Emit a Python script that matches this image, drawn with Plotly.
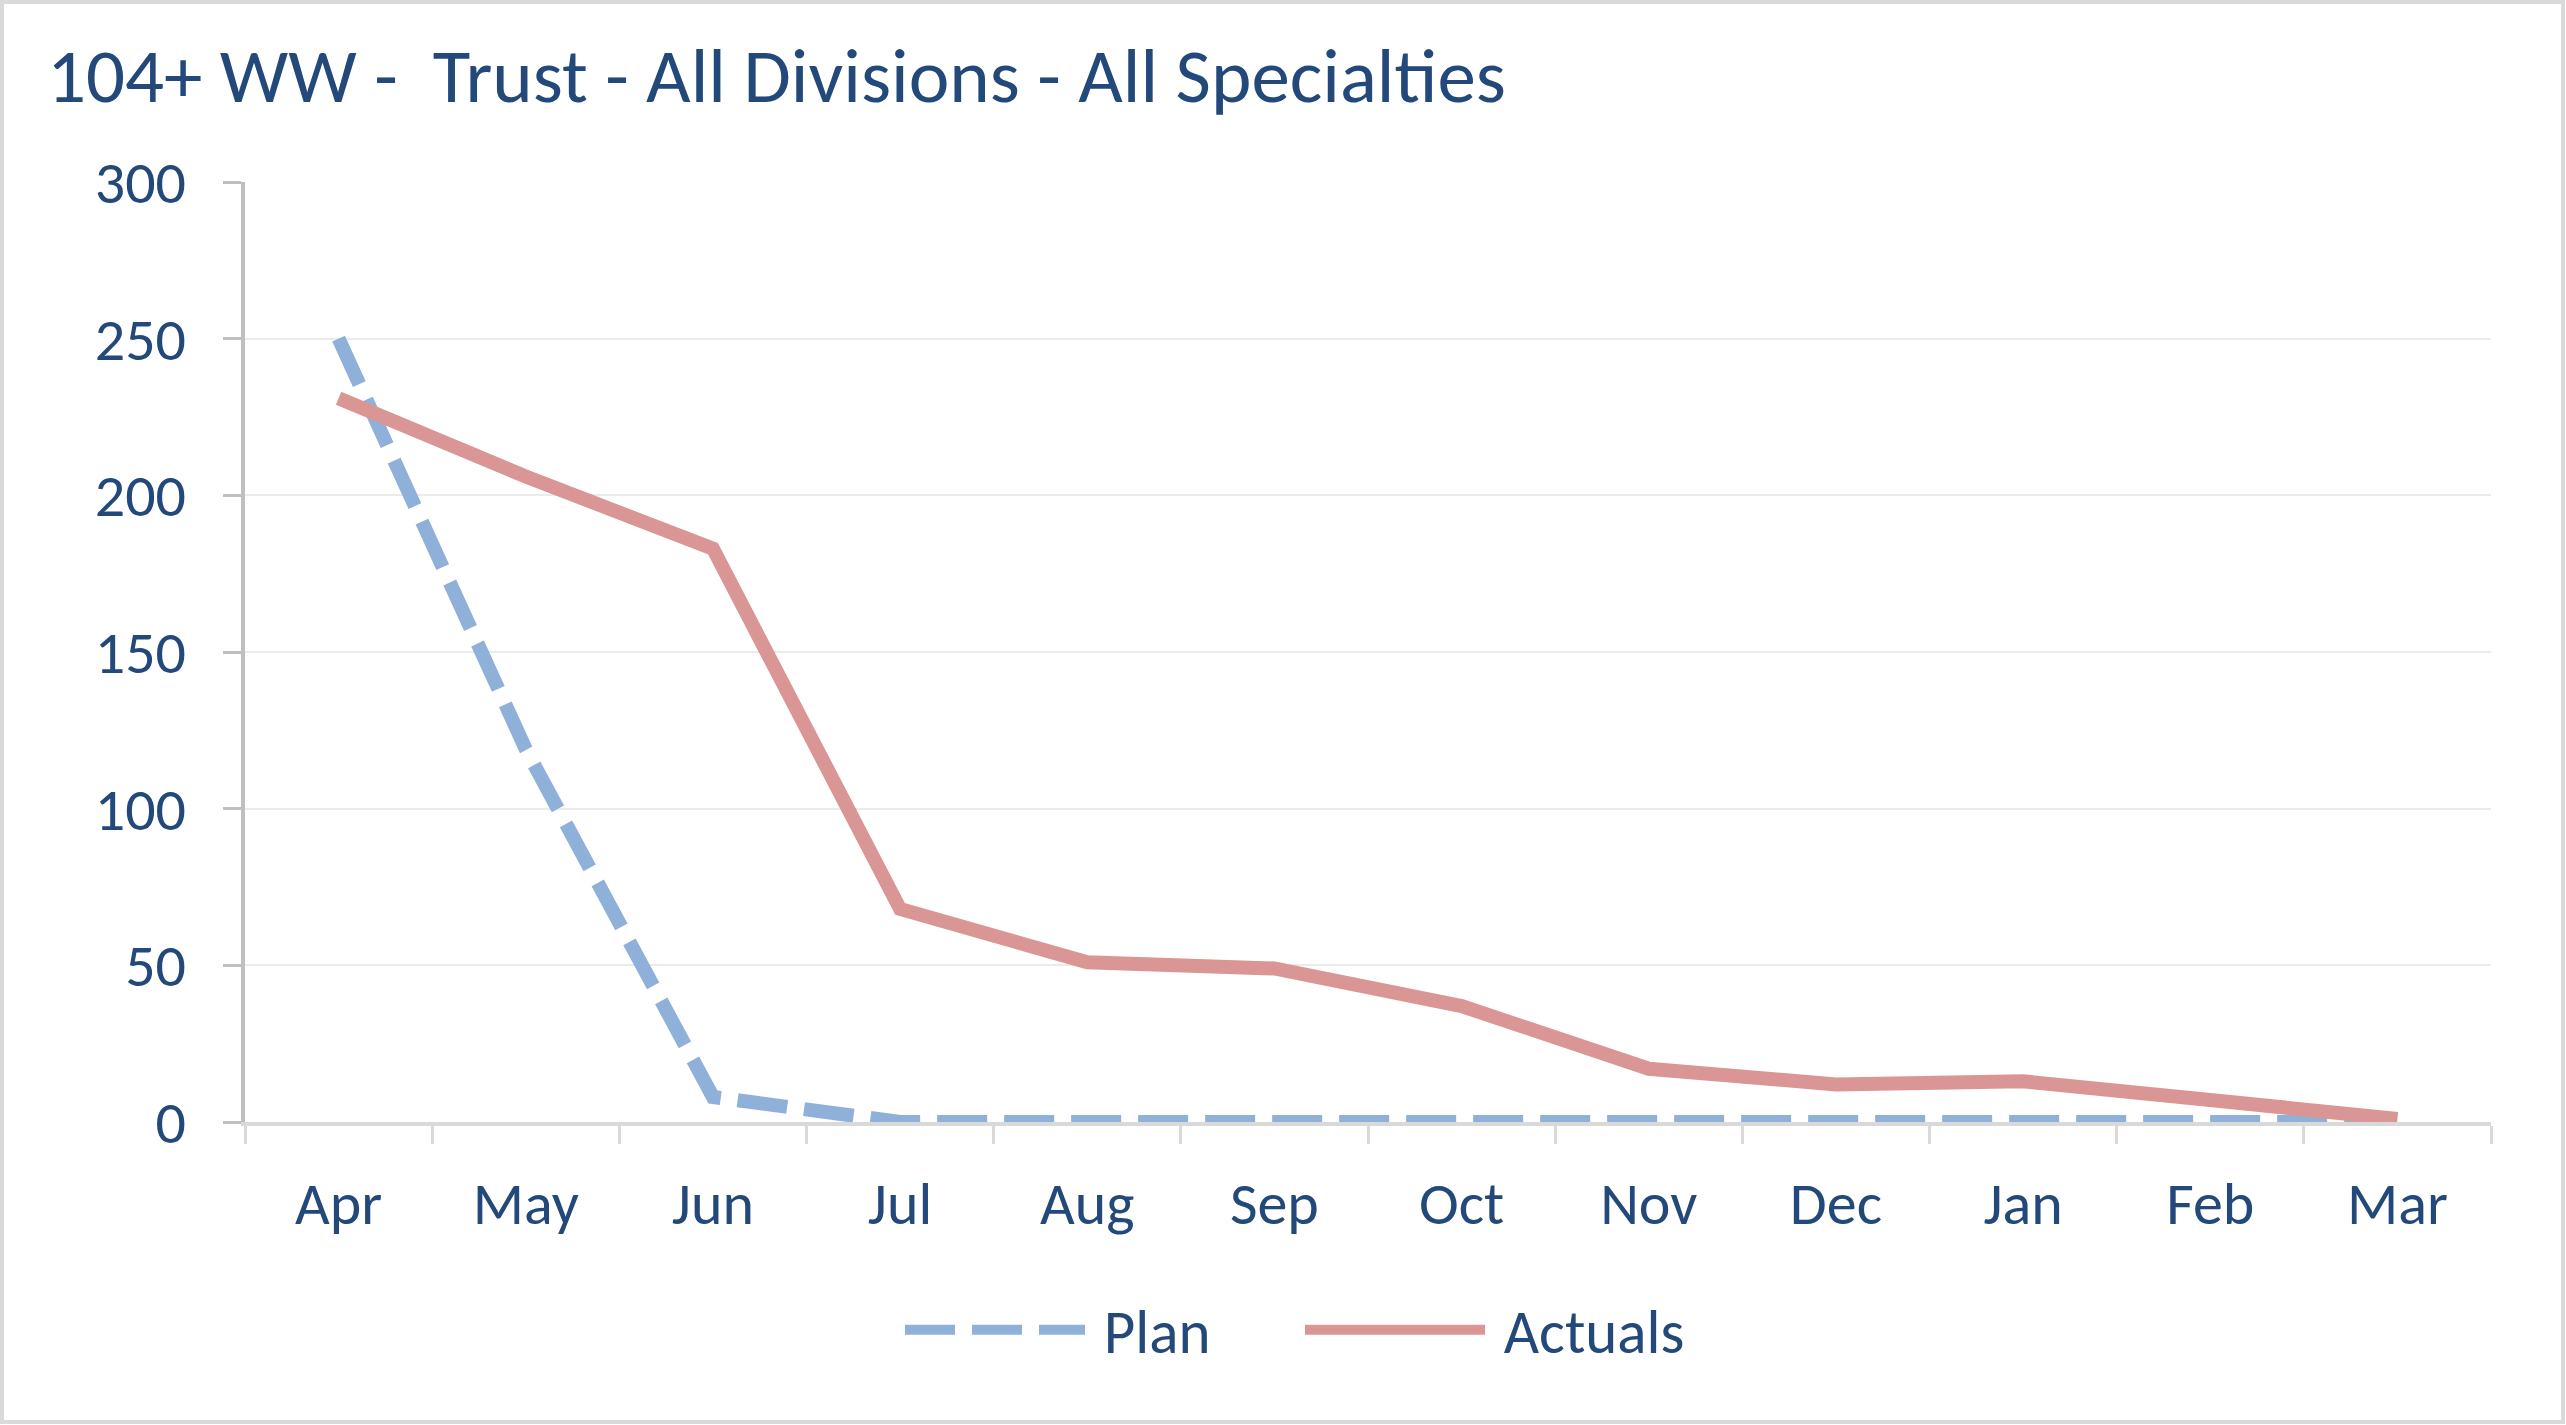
import plotly.graph_objects as go

months = ["Apr", "May", "Jun", "Jul", "Aug", "Sep", "Oct", "Nov", "Dec", "Jan", "Feb", "Mar"]
plan = [250, 119, 8, 0, 0, 0, 0, 0, 0, 0, 0, 0]
actuals = [231, 206, 183, 68, 51, 49, 37, 17, 12, 13, 7, 1]
y_ticks = [0, 50, 100, 150, 200, 250, 300]
title_text = "104+ WW -  Trust - All Divisions - All Specialties"
series_names = ["Plan", "Actuals"]

W, H = 2566, 1425
L, R, T, B = 245, 75, 182, 303
pw, ph = W - L - R, H - T - B

FONT = "Carlito, Lato, sans-serif"
TXT = "#23487A"

def px_x(p):
    return (p - L) / pw

def px_y(p):
    return (H - B - p) / ph

fig = go.Figure()
fig.add_trace(go.Scatter(x=months, y=plan, name="\u00a0" + series_names[0], mode="lines",
                         line=dict(color="#8FB1D9", width=14, dash="50px,17px")))
fig.add_trace(go.Scatter(x=months, y=actuals, name="\u00a0" + series_names[1], mode="lines",
                         line=dict(color="#D99694", width=14)))

fig.update_layout(
    width=W, height=H,
    margin=dict(l=L, r=R, t=T, b=B),
    paper_bgcolor="white", plot_bgcolor="white",
    font=dict(family=FONT, color=TXT, size=60),
    title=dict(text=title_text, x=47 / W, xref="container", xanchor="left",
               y=1 - 75 / H, yref="container", yanchor="middle",
               font=dict(family=FONT, size=77, color=TXT)),
    showlegend=True,
    legend=dict(orientation="h", x=px_x(900), xanchor="left", y=px_y(1330), yanchor="middle",
                font=dict(family=FONT, size=61, color=TXT), itemwidth=180,
                entrywidth=205, entrywidthmode="pixels",
                bgcolor="rgba(0,0,0,0)"),
    shapes=[dict(type="rect", xref="paper", yref="paper",
                 x0=px_x(2), x1=px_x(W - 3), y0=px_y(H - 3), y1=px_y(2),
                 line=dict(color="#D9D9D9", width=4), fillcolor="rgba(0,0,0,0)", layer="below")],
)
fig.update_xaxes(type="category", tickson="boundaries", ticks="outside", ticklen=18, tickwidth=3,
                 tickcolor="#D9D9D9", showline=True, linecolor="#D9D9D9", linewidth=4,
                 showgrid=False, ticklabelstandoff=26, tickfont=dict(size=60, color=TXT),
                 range=[-0.5, 11.5])
fig.update_yaxes(range=[0, 300], tickvals=y_ticks, ticks="outside", ticklen=18, tickwidth=3,
                 tickcolor="#BFBFBF", showline=True, linecolor="#BFBFBF", linewidth=4,
                 showgrid=True, gridcolor="#EBEBEB", gridwidth=2, zeroline=False,
                 ticklabelstandoff=25, tickfont=dict(size=60, color=TXT))

fig.write_html("out.html", config={"displayModeBar": False},
               post_script="document.body.style.margin='0';document.body.style.overflow='hidden';")
